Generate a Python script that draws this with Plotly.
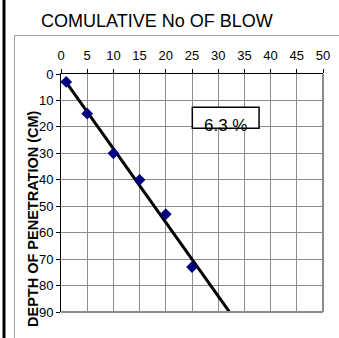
import numpy as np
import plotly.graph_objects as go

# Data
blows = [1, 5, 10, 15, 20, 25]
depth = [3, 15, 30, 40, 53, 73]
x_ticks = [0, 5, 10, 15, 20, 25, 30, 35, 40, 45, 50]
y_ticks = [0, 10, 20, 30, 40, 50, 60, 70, 80, 90]
label_text = "6.3 %"
chart_title = "COMULATIVE No OF BLOW"
y_title = "DEPTH OF PENETRATION (CM)"

# linear trendline (least squares), extended forward
slope, intercept = np.polyfit(blows, depth, 1)
trend_x = [blows[0], 40]
trend_y = [slope * v + intercept for v in trend_x]

FONT = "Liberation Sans, Arial, sans-serif"

fig = go.Figure()
fig.add_trace(go.Scatter(x=trend_x, y=trend_y, mode="lines",
                         line=dict(color="black", width=3), hoverinfo="skip"))
fig.add_trace(go.Scatter(x=blows, y=depth, mode="markers",
                         marker=dict(symbol="diamond", color="#000080", size=9,
                                     line=dict(width=0))))

L, R, T, B = 61, 16, 74, 26
W, H = 339, 338
pw, ph = W - L - R, H - T - B

def px(xp):
    return (xp - L) / pw

def py(yp):
    return (H - B - yp) / ph

fig.update_layout(
    width=W, height=H,
    margin=dict(l=L, r=R, t=T, b=B, autoexpand=False),
    paper_bgcolor="white", plot_bgcolor="white",
    showlegend=False,
    font=dict(family=FONT, color="black", size=13),
    xaxis=dict(side="top", range=[0, 50], tickvals=x_ticks,
               ticks="outside", ticklen=4, tickcolor="black",
               showline=True, linecolor="black", linewidth=1,
               showgrid=True, gridcolor="#8c8c8c", gridwidth=1,
               zeroline=False, tickfont=dict(size=13, family=FONT),
               ticklabelstandoff=4),
    yaxis=dict(range=[90, 0], tickvals=y_ticks,
               ticks="outside", ticklen=4, tickcolor="black",
               showline=True, linecolor="black", linewidth=1,
               showgrid=True, gridcolor="#8c8c8c", gridwidth=1,
               zeroline=False, tickfont=dict(size=13, family=FONT)),
    shapes=[
        # right and bottom plot borders (gray)
        dict(type="line", xref="paper", yref="paper", x0=1, x1=1, y0=0, y1=1,
             line=dict(color="#8c8c8c", width=2)),
        dict(type="line", xref="paper", yref="paper", x0=0, x1=1, y0=0, y1=0,
             line=dict(color="#8c8c8c", width=2)),
        # chart area border
        dict(type="line", xref="paper", yref="paper", x0=px(14), x1=px(W + 5),
             y0=py(35.5), y1=py(35.5), line=dict(color="#a0a0a0", width=1)),
        dict(type="line", xref="paper", yref="paper", x0=px(14.5), x1=px(14.5),
             y0=py(35.5), y1=py(H + 5), line=dict(color="#a0a0a0", width=1)),
        # page thick line
        dict(type="line", xref="paper", yref="paper", x0=px(4), x1=px(4),
             y0=py(-5), y1=py(H + 5), line=dict(color="black", width=3)),
        # label box
        dict(type="rect", xref="x", yref="y", x0=25.06, x1=37.8, y0=12.6, y1=20.5,
             line=dict(color="black", width=1.5), fillcolor="white", layer="above"),
    ],
    annotations=[
        dict(text=chart_title, xref="paper", yref="paper", x=px(157), y=py(21),
             showarrow=False, xanchor="center", yanchor="middle",
             font=dict(size=18, family=FONT, color="black")),
        dict(text="<b>" + y_title + "</b>", xref="paper", yref="paper",
             x=px(33), y=py(219), textangle=-90, showarrow=False,
             xanchor="center", yanchor="middle",
             font=dict(size=14.5, family=FONT, color="black")),
        dict(text=label_text, xref="x", yref="y", x=31.3, y=19.6,
             showarrow=False, xanchor="center", yanchor="middle",
             font=dict(size=17, family=FONT, color="black")),
    ],
)

fig.write_html("out.html", config={"displayModeBar": False},
               post_script="document.body.style.margin='0';document.body.style.overflow='hidden';")
